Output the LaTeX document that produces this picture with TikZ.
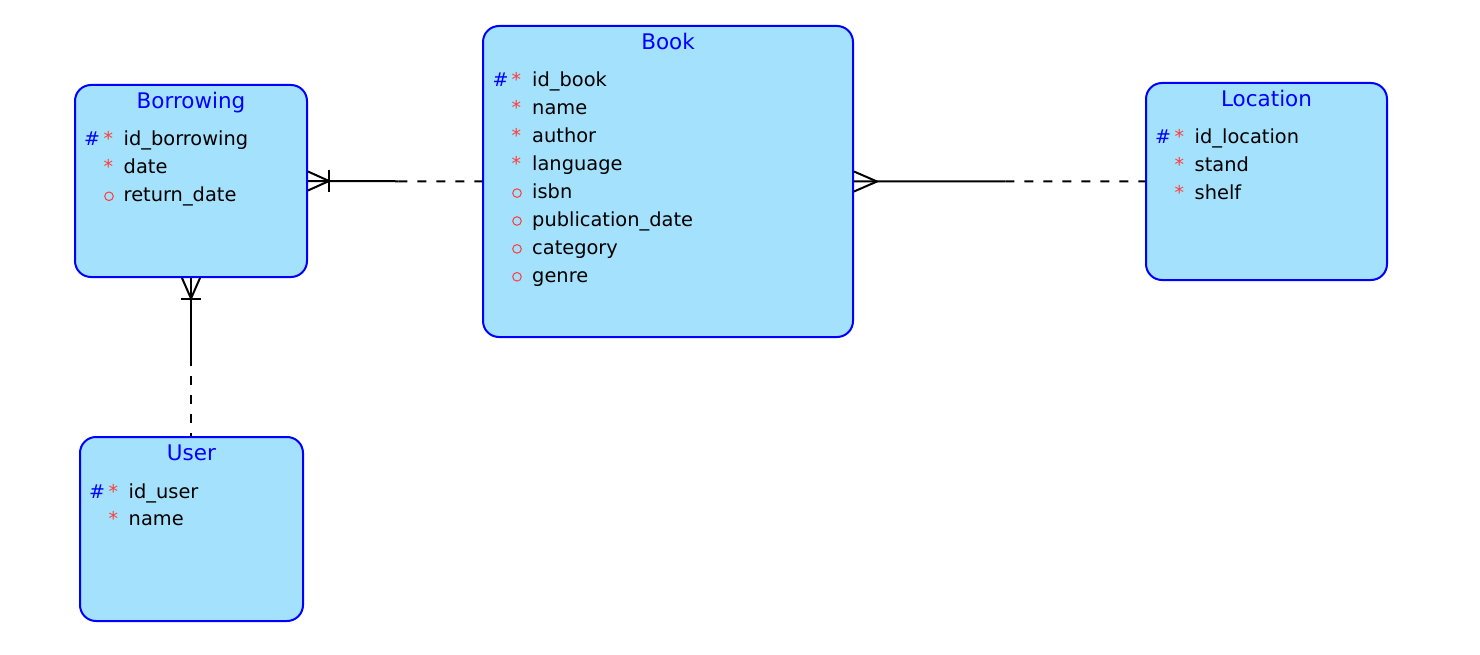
\documentclass[tikz,border=0pt]{standalone}
\usepackage{fontspec}
\setmainfont{DejaVu Sans}
\usetikzlibrary{calc}
\definecolor{erblue}{HTML}{0000FF}
\definecolor{erfill}{HTML}{A4E1FC}
\definecolor{erred}{HTML}{FF3C3C}
\tikzset{
  entity/.style={draw=erblue, fill=erfill, line width=2pt, rounded corners=16pt, inner sep=0pt},
  ttl/.style={anchor=base, inner sep=0pt, text=erblue, font=\fontsize{21.5}{21.5}\selectfont},
  attr/.style={anchor=base west, inner sep=0pt, text=black, font=\fontsize{19.4}{19.4}\selectfont},
  star/.style={anchor=base west, inner sep=0pt, text=erred, font=\fontsize{19}{19}\selectfont},
  hash/.style={anchor=base west, inner sep=0pt, text=erblue, font=\fontsize{19}{19}\selectfont},
  optmark/.style={draw=erred, line width=1pt},
  rel/.style={line width=2pt, black},
  reldash/.style={line width=2pt, black, dash pattern=on 9pt off 10pt},
}
\begin{document}
\begin{tikzpicture}[x=1pt, y=-1pt]
\useasboundingbox (0,0) rectangle (1480,655);

% entity boxes
\node[entity, minimum width=370pt, minimum height=311pt] (bk) at (668,181.5) {};
\node[entity, minimum width=232pt, minimum height=192pt] (bor) at (191,181) {};
\node[entity, minimum width=241pt, minimum height=197pt] (loc) at (1266.5,181.5) {};
\node[entity, minimum width=223pt, minimum height=184pt] (usr) at (191.5,529) {};

% titles
\node[ttl] (bk-t) at ($(bk.north)+(0,24.5)$) {Book};
\node[ttl] (bor-t) at ($(bor.north)+(0,24.5)$) {Borrowing};
\node[ttl] (loc-t) at ($(loc.north)+(0,24.5)$) {Location};
\node[ttl] (usr-t) at ($(usr.north)+(0,24.5)$) {User};

% Book attributes
\foreach \t [count=\i] in {id\_book, name, author, language, isbn, publication\_date, category, genre}
  \node[attr] (bk-a\i) at ($(bk.north west)+(50,{62+27.9*(\i-1)})$) {\t};
\node[hash] (bk-h) at ($(bk.north west)+(10.5,62)$) {\#};
\foreach \i in {1,...,4}
  \node[star] (bk-s\i) at ($(bk.north west)+(29.5,{62+27.9*(\i-1)})$) {*};
\foreach \i in {5,...,8}
  \draw[optmark] ($(bk.north west)+(35,{56.5+27.9*(\i-1)})$) circle[radius=4.3pt];

% Borrowing attributes
\foreach \t [count=\i] in {id\_borrowing, date, return\_date}
  \node[attr] (bor-a\i) at ($(bor.north west)+(49.5,{62+27.9*(\i-1)})$) {\t};
\node[hash] (bor-h) at ($(bor.north west)+(10,62)$) {\#};
\foreach \i in {1,2}
  \node[star] (bor-s\i) at ($(bor.north west)+(29.5,{62+27.9*(\i-1)})$) {*};
\draw[optmark] ($(bor.north west)+(35,{56.5+27.9*2})$) circle[radius=4.3pt];

% Location attributes
\foreach \t [count=\i] in {id\_location, stand, shelf}
  \node[attr] (loc-a\i) at ($(loc.north west)+(49.5,{62+27.9*(\i-1)})$) {\t};
\node[hash] (loc-h) at ($(loc.north west)+(10,62)$) {\#};
\foreach \i in {1,...,3}
  \node[star] (loc-s\i) at ($(loc.north west)+(29.5,{62+27.9*(\i-1)})$) {*};

% User attributes
\foreach \t [count=\i] in {id\_user, name}
  \node[attr] (usr-a\i) at ($(usr.north west)+(49.5,{62+27.9*(\i-1)})$) {\t};
\node[hash] (usr-h) at ($(usr.north west)+(10,62)$) {\#};
\foreach \i in {1,2}
  \node[star] (usr-s\i) at ($(usr.north west)+(29.5,{62+27.9*(\i-1)})$) {*};

% Borrowing -- Book (one or many at Borrowing)
\coordinate (r1) at ($(bor.east)!0.52!(bk.west)$);
\draw[rel] (bor.east) -- (r1);
\draw[reldash] (r1) -- (bk.west);
\draw[rel] ($(bor.east)+(0,-9.5)$) -- ($(bor.east)+(21,0)$) -- ($(bor.east)+(0,9.5)$);
\draw[rel] ($(bor.east)+(21,-11)$) -- ($(bor.east)+(21,11)$);

% Book -- Location (many at Book)
\coordinate (r2) at ($(bk.east)!0.52!(loc.west)$);
\draw[rel] (bk.east) -- (r2);
\draw[reldash] (r2) -- (loc.west);
\draw[rel] ($(bk.east)+(0,-10)$) -- ($(bk.east)+(23,0)$) -- ($(bk.east)+(0,10)$);

% Borrowing -- User (one or many at Borrowing)
\coordinate (r3) at ($(bor.south)!0.5!(bor.south |- usr.north)$);
\draw[rel] (bor.south) -- (r3);
\draw[reldash] (r3) -- (bor.south |- usr.north);
\draw[rel] ($(bor.south)+(-9,0)$) -- ($(bor.south)+(0,20.5)$) -- ($(bor.south)+(9,0)$);
\draw[rel] ($(bor.south)+(-10,20.5)$) -- ($(bor.south)+(10,20.5)$);
\end{tikzpicture}
\end{document}
